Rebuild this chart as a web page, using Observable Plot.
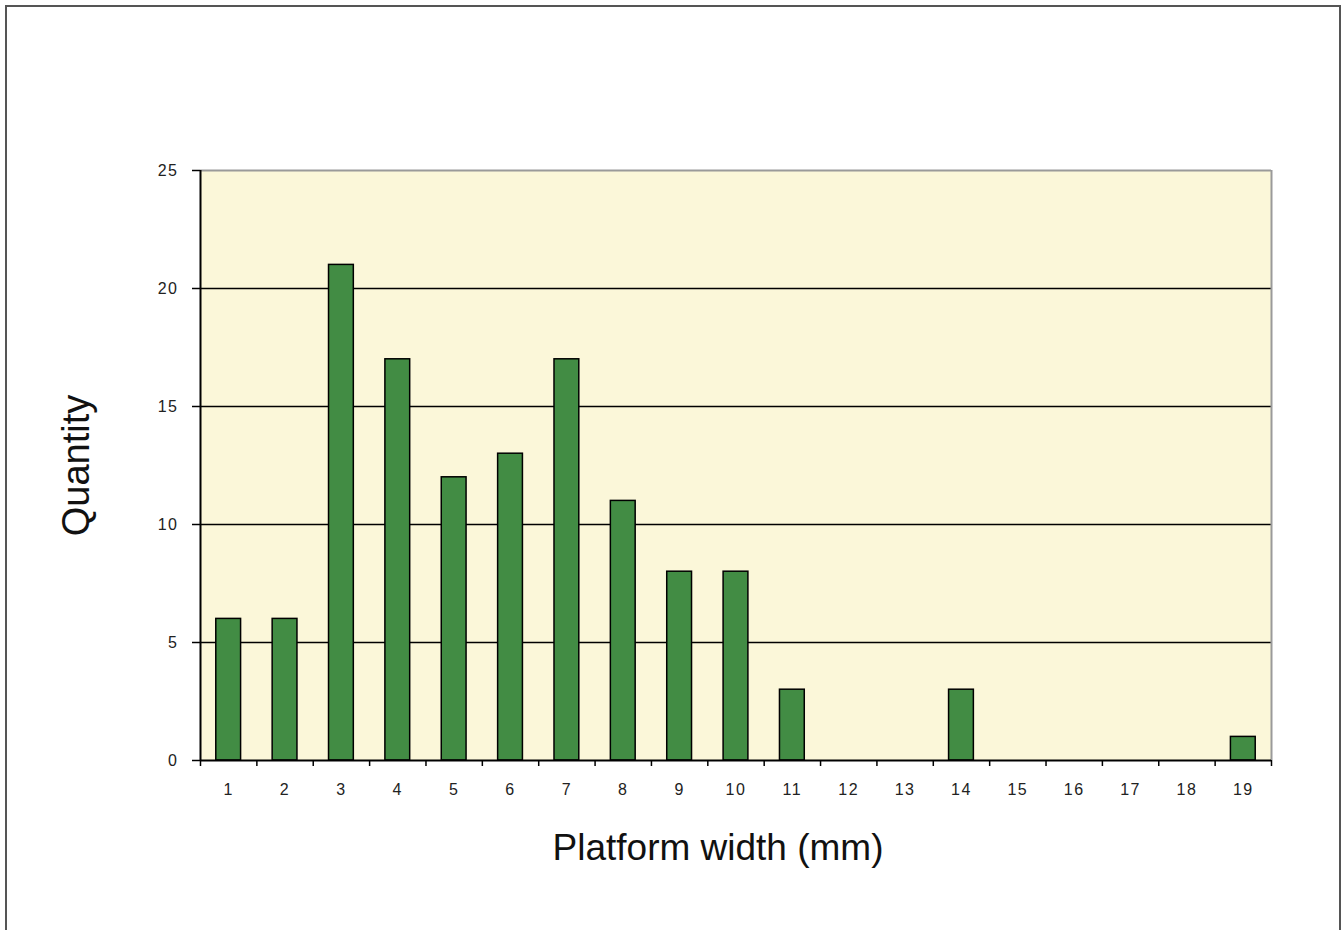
<!DOCTYPE html>
<html><head><meta charset="utf-8">
<script src="https://cdn.jsdelivr.net/npm/d3@7"></script>
<script src="https://cdn.jsdelivr.net/npm/@observablehq/plot@0.6"></script>
<style>
html,body{margin:0;padding:0;background:#fff;overflow:hidden}
#wrap{position:relative;width:1343px;height:930px}
#border{position:absolute;left:5px;top:5px;width:1336px;height:960px;border:2px solid #555;box-sizing:border-box;pointer-events:none}
.ticklbl text{letter-spacing:1.5px}
</style></head><body><div id="wrap"><div id="chart"></div><div id="border"></div></div>
<script>
const widths = [1,2,3,4,5,6,7,8,9,10,11,12,13,14,15,16,17,18,19];
const quantities = [6,6,21,17,12,13,17,11,8,8,3,0,0,3,0,0,0,0,1];
const yTicks = [0,5,10,15,20,25];
const gridValues = [5,10,15,20];
const xLabel = "Platform width (mm)";
const yLabel = "Quantity";

const data = widths.map((w, i) => ({w, q: quantities[i]}));
const boundaries = [...widths.map(w => w - 0.5), widths[widths.length - 1] + 0.5];
const half = 0.22;

const chart = Plot.plot({
  width: 1343, height: 930,
  marginLeft: 200, marginRight: 72, marginTop: 170, marginBottom: 170,
  style: {fontFamily: "'Liberation Sans', Arial, sans-serif", fontSize: "16px", background: "transparent", color: "#000"},
  x: {domain: [0.5, 19.5]},
  y: {domain: [0, 25]},
  marks: [
    Plot.frame({fill: "#fbf7d9", stroke: null}),
    Plot.ruleY(gridValues, {stroke: "#000", strokeWidth: 1.5}),
    Plot.rectY(data, {x1: d => d.w - half, x2: d => d.w + half, y1: 0, y2: "q", fill: "#428c44", stroke: "#000", strokeWidth: 1.5}),
    Plot.ruleY([25], {stroke: "#9a9a9a", strokeWidth: 2}),
    Plot.ruleX([19.5], {stroke: "#9a9a9a", strokeWidth: 2}),
    Plot.ruleX([0.5], {stroke: "#000", strokeWidth: 2}),
    Plot.ruleY([0], {stroke: "#000", strokeWidth: 2}),
    Plot.axisY(yTicks, {tickSize: 8, tickPadding: 14, label: null, strokeWidth: 1.5, fill: "#222", className: "ticklbl"}),
    Plot.axisX(boundaries, {tickSize: 6, tickFormat: () => "", label: null, strokeWidth: 1.5}),
    Plot.axisX(widths, {tickSize: 0, tickPadding: 23, label: null, fill: "#222", className: "ticklbl"}),
    Plot.text([yLabel], {frameAnchor: "left", textAnchor: "middle", dx: -124, rotate: -90, fontSize: 38, text: d => d, fill: "#111"}),
    Plot.text([xLabel], {frameAnchor: "bottom", textAnchor: "middle", dy: 99, dx: -18, fontSize: 37, text: d => d, fill: "#111"})
  ]
});
document.getElementById("chart").appendChild(chart);
</script>
</body></html>
